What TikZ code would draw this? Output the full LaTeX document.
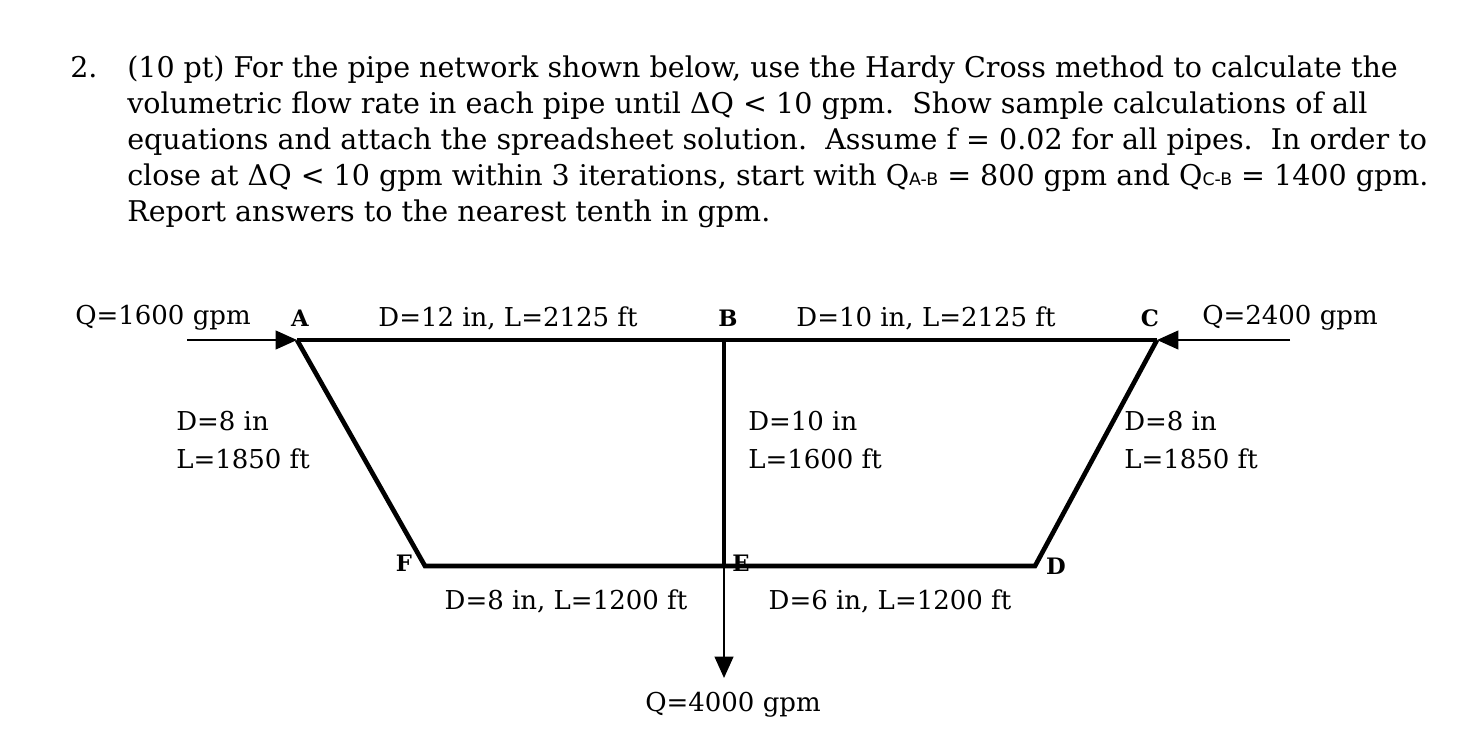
\documentclass[tikz,border=0pt]{standalone}
\usepackage{fontspec}
\setmainfont{DejaVu Serif}
\setsansfont{DejaVu Sans}
\usetikzlibrary{arrows.meta}
\begin{document}
\begin{tikzpicture}[x=0.75pt,y=-0.75pt,
  txt/.style={font=\fontsize{19.5}{24}\selectfont, inner sep=0pt},
  par/.style={font=\fontsize{21.4}{26}\selectfont, inner sep=0pt, anchor=base west},
  lbl/.style={font=\fontsize{17}{20}\selectfont\bfseries, inner sep=0pt},
  pipe/.style={line width=3.5pt},
  flow/.style={line width=1.6pt, -{Triangle[length=16pt,width=14pt]}}]
\useasboundingbox (0,0) rectangle (1483,752);
\node[par] (n2) at (70,78) {2.};
\node[par] (l1) at (127,78) {(10 pt) For the pipe network shown below, use the Hardy Cross method to calculate the};
\node[par] (l2) at (127,114) {volumetric flow rate in each pipe until ΔQ < 10 gpm.\ \ Show sample calculations of all};
\node[par] (l3) at (127,150) {equations and attach the spreadsheet solution.\ \ Assume f = 0.02 for all pipes.\ \ In order to};
\node[par] (l4) at (127,186) {close at ΔQ < 10 gpm within 3 iterations, start with Q{\sffamily\fontsize{13}{13}\selectfont A-B} = 800 gpm and Q{\sffamily\fontsize{13}{13}\selectfont C-B} = 1400 gpm.};
\node[par] (l5) at (127,222) {Report answers to the nearest tenth in gpm.};
\coordinate (A) at (297,340); \coordinate (B) at (724,340); \coordinate (C) at (1157,340);
\coordinate (F) at (425,566); \coordinate (E) at (724,566); \coordinate (D) at (1035,566);
\coordinate (inA) at (187,340); \coordinate (inC) at (1290,340); \coordinate (out) at (724,678);
\draw[pipe] (A) -- (C);
\draw[pipe] (A) -- (F) -- (D) -- (C);
\draw[line width=2.5pt] (B) -- (E);
\draw[flow] (inA) -- (A);
\draw[flow] (inC) -- (C);
\draw[flow] (E) -- (out);
\node[lbl] (la) at (300,318) {A};
\node[lbl] (lb) at (728,318) {B};
\node[lbl] (lc) at (1150,318) {C};
\node[lbl] (lf) at (404,563) {F};
\node[lbl] (le) at (741,563) {E};
\node[lbl] (ld) at (1056,566) {D};
\node[txt] (q1) at (163,318) {Q=1600 gpm};
\node[txt] (q2) at (1290,318) {Q=2400 gpm};
\node[txt] (q3) at (733,705) {Q=4000 gpm};
\node[txt] (p1) at (508,318) {D=12 in, L=2125 ft};
\node[txt] (p2) at (926,318) {D=10 in, L=2125 ft};
\node[txt] (p3) at (566,601) {D=8 in, L=1200 ft};
\node[txt] (p4) at (890,601) {D=6 in, L=1200 ft};
\node[txt, align=left, anchor=west] (p5) at (176,440) {D=8 in\\[4pt]L=1850 ft};
\node[txt, align=left, anchor=west] (p6) at (748,440) {D=10 in\\[4pt]L=1600 ft};
\node[txt, align=left, anchor=west] (p7) at (1124,440) {D=8 in\\[4pt]L=1850 ft};
\end{tikzpicture}
\end{document}
